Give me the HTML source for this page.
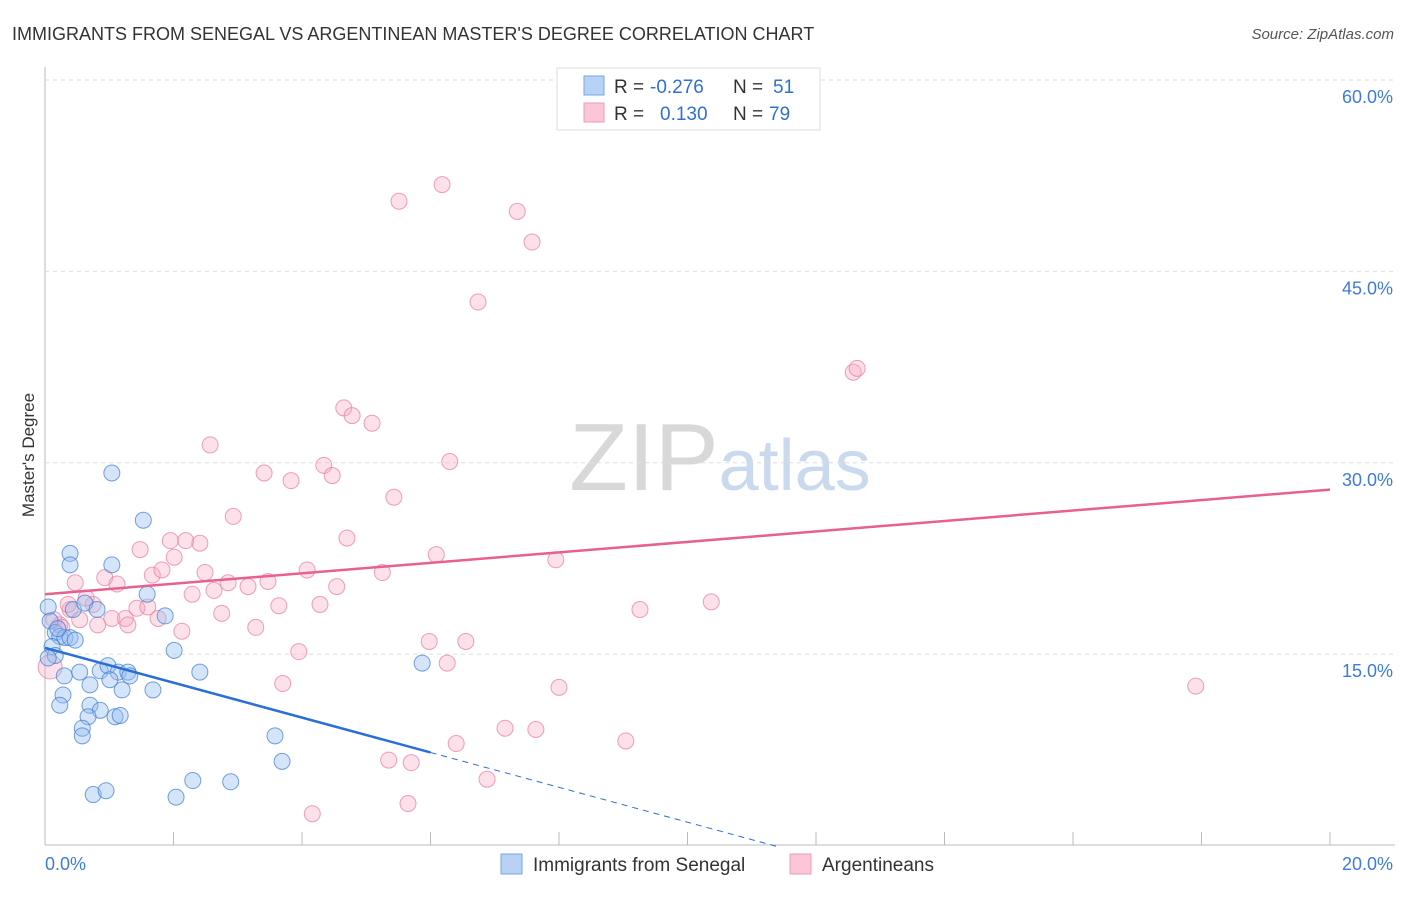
<!DOCTYPE html>
<html><head><meta charset="utf-8"><style>
body{margin:0;background:#fff;font-family:"Liberation Sans",sans-serif}
svg text{font-family:"Liberation Sans",sans-serif}
</style></head><body>
<svg id="c" width="1406" height="892">
<text x="12" y="40" font-size="18" fill="#333">IMMIGRANTS FROM SENEGAL VS ARGENTINEAN MASTER'S DEGREE CORRELATION CHART</text>
<text x="1394" y="39" font-size="15" fill="#555" font-style="italic" text-anchor="end">Source: ZipAtlas.com</text>
<text x="34" y="455" font-size="17" fill="#333" text-anchor="middle" transform="rotate(-90 34 455)">Master's Degree</text>
<text x="720" y="490" font-size="96" fill="#ddd" text-anchor="middle" font-family="Liberation Serif"><tspan fill="#d8d8d8">ZIP</tspan><tspan fill="#c9d9ee" font-family="Liberation Sans" font-size="72">atlas</tspan></text>
<g id="grid"></g><g id="pts"></g><g id="lines"></g>
<g>
<rect x="557" y="68" width="263" height="62" fill="#fff" stroke="#ddd"/>
<rect x="584" y="76" width="20" height="19" fill="#b8d2f5" stroke="#7aa6e6"/>
<rect x="584" y="103" width="20" height="19" fill="#fbc6d6" stroke="#f09ab4"/>
<text x="614" y="93" font-size="19" fill="#333">R =</text>
<text x="650" y="93" font-size="19" fill="#2f6fd6">-0.276</text>
<text x="733" y="93" font-size="19" fill="#333">N =</text>
<text x="773" y="93" font-size="19" fill="#2f6fd6">51</text>
<text x="614" y="120" font-size="19" fill="#333">R =</text>
<text x="660" y="120" font-size="19" fill="#2f6fd6">0.130</text>
<text x="733" y="120" font-size="19" fill="#333">N =</text>
<text x="769" y="120" font-size="19" fill="#2f6fd6">79</text>
</g>
<g>
<rect x="501" y="854" width="21" height="20" fill="#b8d2f5" stroke="#7aa6e6"/>
<text x="533" y="871" font-size="19" fill="#333">Immigrants from Senegal</text>
<rect x="790" y="854" width="21" height="20" fill="#fbc6d6" stroke="#f09ab4"/>
<text x="822" y="871" font-size="19" fill="#333">Argentineans</text>
</g>
</svg>
<script>
const NS="http://www.w3.org/2000/svg";
const xTicks=[0,2,4,6,8,10,12,14,16,18,20];
const yTicks=[15,30,45,60];
const blueX=[0.05,0.08,0.16,0.23,0.31,0.39,0.47,0.11,0.16,0.39,0.39,1.04,1.53,1.04,1.59,0.44,0.62,0.81,1.87,2.01,2.41,5.87,0.54,0.7,0.86,0.98,1.14,1.29,1.2,1.68,0.3,0.28,0.23,0.7,0.86,0.67,1.09,1.17,0.58,0.58,3.58,3.69,0.75,0.95,2.04,2.3,2.89,1.01,1.32,0.05,0.2];
const blueY=[18.7,17.6,16.7,16.4,16.3,16.3,16.1,15.6,14.9,22.9,22.0,29.2,25.5,22.0,19.7,18.5,19.0,18.5,18.0,15.3,13.6,14.3,13.6,12.6,13.7,14.1,13.6,13.6,12.2,12.2,13.3,11.8,11.0,11.0,10.6,10.1,10.1,10.2,9.2,8.6,8.6,6.6,4.0,4.3,3.8,5.1,5.0,13.0,13.3,14.7,17.0];
const pinkX=[0.08,0.23,0.39,0.47,0.36,0.93,1.12,0.75,0.54,0.82,1.04,1.25,1.29,1.48,1.43,1.67,1.76,1.82,1.95,2.01,2.13,2.19,2.41,2.29,2.49,2.63,2.75,2.85,2.93,2.57,3.16,3.28,3.41,3.47,3.64,3.70,3.83,3.95,4.08,4.28,4.34,4.47,4.54,4.70,4.65,4.78,5.09,5.25,5.43,5.51,5.35,5.65,5.70,5.98,6.09,6.26,6.30,6.18,6.40,6.55,6.74,6.88,7.16,7.35,7.58,7.64,7.95,8.00,9.04,9.26,10.37,12.58,12.64,17.91,4.16,0.14,0.64,0.26,1.60];
const pinkY=[14.0,17.3,18.5,20.6,18.9,21.0,20.5,18.9,17.7,17.3,17.8,17.8,17.3,23.2,18.6,21.2,17.8,21.6,23.9,22.6,16.8,23.9,23.7,19.7,21.4,20.0,18.2,20.6,25.8,31.4,20.3,17.1,29.2,20.7,18.8,12.7,28.6,15.2,21.6,18.9,29.8,29.0,20.3,24.1,34.3,33.7,33.1,21.4,27.3,50.5,6.7,3.3,6.5,16.0,22.8,14.3,30.1,51.8,8.0,16.0,42.6,5.2,9.2,49.7,47.3,9.1,22.4,12.4,8.2,18.5,19.1,37.1,37.4,12.5,2.5,17.7,19.4,17.1,18.7];
const X0=45,X1=1330,Y0=845.6,Y60=80;
const sx=v=>X0+(X1-X0)*v/20, sy=v=>Y0-(Y0-Y60)*v/60;
function el(t,a,p){const e=document.createElementNS(NS,t);for(const k in a)e.setAttribute(k,a[k]);p.appendChild(e);return e;}
const grid=document.getElementById('grid'),pts=document.getElementById('pts'),lines=document.getElementById('lines');
let ax=el('line',{x1:X0,y1:67,x2:X0,y2:845,stroke:'#bbb'},grid);


let bx=el('line',{x1:X0,y1:845,x2:1395,y2:845,stroke:'#bbb'},grid);


yTicks.forEach(v=>{
 const g=el('line',{x1:X0,x2:1395,y1:sy(v),y2:sy(v),stroke:'#ddd','stroke-dasharray':'4,4'},grid);
 
 
 const t=el('text',{x:1393,y:sy(v)+23,'font-size':18,fill:'#3d7bd9','text-anchor':'end'},grid);t.textContent=v.toFixed(1)+'%';
 
 
});
xTicks.forEach(v=>{
 if(v>0){const l=el('line',{x1:sx(v),x2:sx(v),y1:832,y2:845,stroke:'#bbb'},grid);
 
 }
});
[[0,'start',45],[20,'end',1393]].forEach(([v,a,x])=>{const t=el('text',{x:x,y:870,'font-size':18,fill:'#3d7bd9','text-anchor':a},grid);t.textContent=v.toFixed(1)+'%';

});
pinkX.forEach((x,i)=>{const c=el('circle',{cx:sx(x),cy:sy(pinkY[i]),r:i==0?12:8,fill:'rgba(248,170,195,0.35)',stroke:'rgba(232,120,155,0.7)','stroke-width':1},pts);

});
blueX.forEach((x,i)=>{const c=el('circle',{cx:sx(x),cy:sy(blueY[i]),r:8,fill:'rgba(150,190,240,0.4)',stroke:'rgba(60,120,210,0.7)','stroke-width':1},pts);

});
const pinkTrend=[19.7,27.9], blueTrend=[15.5,7.3], blueTrendEnd=6.0, blueDashEnd=-0.05;
let pl=el('line',{x1:sx(0),y1:sy(pinkTrend[0]),x2:sx(20),y2:sy(pinkTrend[1]),stroke:'#e8608c','stroke-width':2.5},lines);


let bl=el('line',{x1:sx(0),y1:sy(blueTrend[0]),x2:sx(blueTrendEnd),y2:sy(blueTrend[1]),stroke:'#2a6fd6','stroke-width':2.5},lines);


const xe=blueTrendEnd+(blueDashEnd-blueTrend[1])/(blueTrend[1]-blueTrend[0])*blueTrendEnd;
let bd=el('line',{x1:sx(blueTrendEnd),y1:sy(blueTrend[1]),x2:sx(xe),y2:sy(blueDashEnd),stroke:'#2a6fd6','stroke-width':1,'stroke-dasharray':'6,5'},lines);


</script>
</body></html>
